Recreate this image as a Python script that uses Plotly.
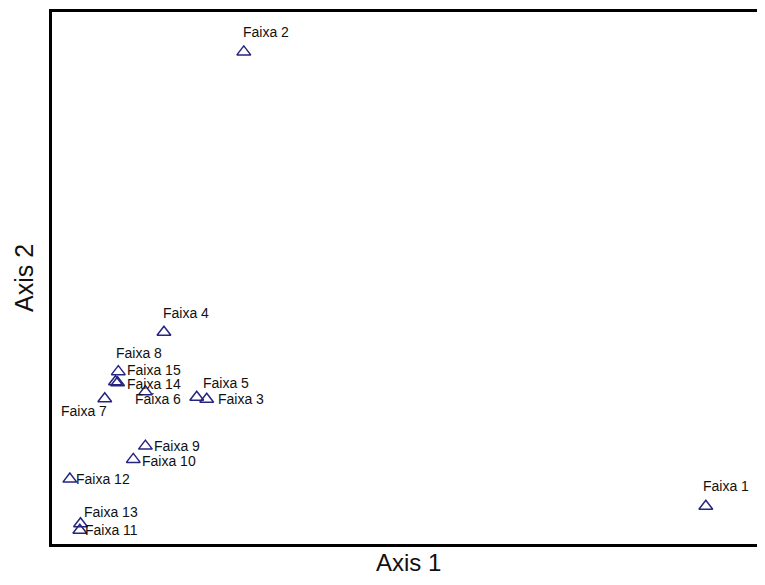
import plotly.graph_objects as go

# Data (arbitrary ordination units)
labels = ["Faixa 1", "Faixa 2", "Faixa 3", "Faixa 4", "Faixa 5", "Faixa 6", "Faixa 7",
          "Faixa 8", "Faixa 9", "Faixa 10", "Faixa 11", "Faixa 12", "Faixa 13",
          "Faixa 14", "Faixa 15"]
axis1 = [91.7, 26.9, 21.7, 15.7, 20.3, 13.1, 7.4, 8.9, 13.1, 11.4, 3.9, 2.5, 4.0, 9.2, 9.3]
axis2 = [7.1, 92.5, 27.2, 39.8, 27.6, 28.6, 27.3, 30.5, 18.4, 15.9, 2.6, 12.2, 3.8, 30.3, 32.4]

# label placement offsets (pixels): xshift, yshift
label_dx = [-3, -1, 11, -1, 6, -10, -44, 1, 9, 9, 5, 6, 3, 9, 9]
label_dy = [20, 20, 0, 19, 14, -7, -12, 29, 0, -2, 0, 0, 12, -1, 2]

marker_color = "#25257f"
font_family = "Liberation Sans, Arial, sans-serif"

fig = go.Figure()
fig.add_trace(go.Scatter(
    x=axis1, y=axis2, mode="markers",
    marker=dict(symbol="triangle-up-open", size=12, color=marker_color,
                line=dict(width=1.5, color=marker_color)),
    hoverinfo="text", text=labels, showlegend=False,
))

annotations = []
for xv, yv, t, dx, dy in zip(axis1, axis2, labels, label_dx, label_dy):
    annotations.append(dict(
        x=xv, y=yv, xref="x", yref="y", text=t, showarrow=False,
        xanchor="left", yanchor="middle", xshift=dx - 2, yshift=dy,
        font=dict(family=font_family, size=14, color="#111111"),
    ))

annotations.append(dict(
    x=0.5, y=0, xref="paper", yref="paper", text="Axis 1", showarrow=False,
    xanchor="center", yanchor="top", yshift=-3,
    font=dict(family=font_family, size=24, color="#111111"),
))
annotations.append(dict(
    x=0, y=0.5, xref="paper", yref="paper", text="Axis 2", showarrow=False,
    xanchor="right", yanchor="middle", xshift=-12, textangle=-90,
    font=dict(family=font_family, size=25, color="#111111"),
))

fig.update_layout(
    width=757, height=569,
    margin=dict(l=44, r=0, t=4, b=33),
    paper_bgcolor="white", plot_bgcolor="white",
    annotations=annotations,
    xaxis=dict(range=[0, 100], showgrid=False, zeroline=False, showticklabels=False,
               ticks="", showline=True, mirror=True, linecolor="black", linewidth=3),
    yaxis=dict(range=[0, 100], showgrid=False, zeroline=False, showticklabels=False,
               ticks="", showline=True, mirror=False, linecolor="black", linewidth=3),
)

fig.write_html("out.html")
